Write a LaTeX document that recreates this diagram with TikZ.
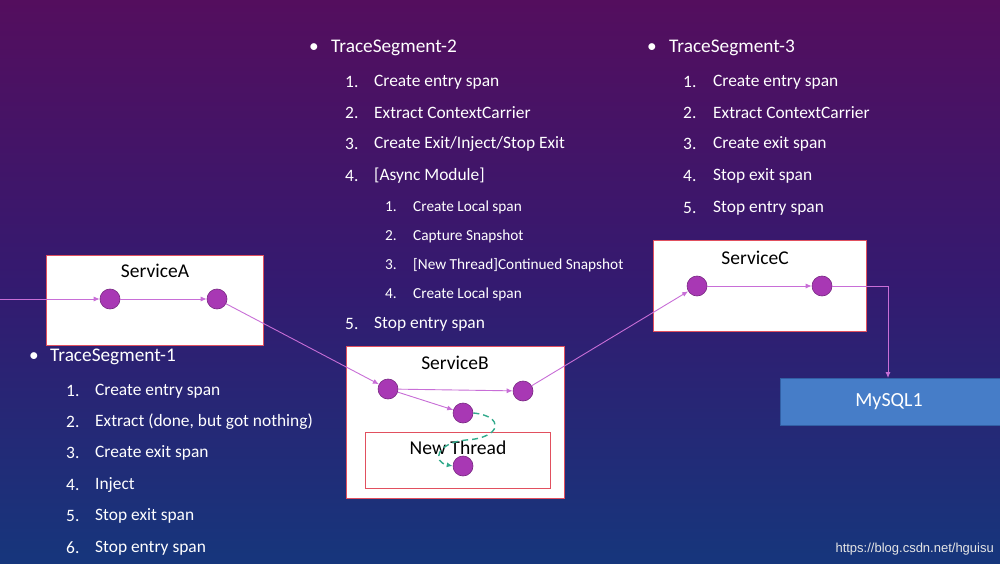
\documentclass[tikz,border=0pt]{standalone}
\usepackage{fontspec}
\setmainfont{Carlito}
\newfontfamily\wmfont{Liberation Sans}
\usetikzlibrary{arrows.meta}
\definecolor{bgtop}{RGB}{84,14,94}
\definecolor{bgmid}{RGB}{52,26,112}
\definecolor{bgbot}{RGB}{22,54,124}
\definecolor{dotfill}{RGB}{168,56,180}
\definecolor{dotline}{RGB}{120,40,130}
\definecolor{linkc}{RGB}{200,110,215}
\definecolor{boxred}{RGB}{225,80,95}
\definecolor{teal}{RGB}{50,170,140}
\definecolor{mysqlfill}{RGB}{70,125,200}
\definecolor{mysqlline}{RGB}{50,95,165}
\tikzset{
  svcbox/.style={draw=boxred, line width=1.2pt, fill=white},
  dot/.style={circle, fill=dotfill, draw=dotline, line width=0.6pt, minimum size=20pt, inner sep=0pt},
  link/.style={draw=linkc, line width=0.9pt, -{Latex[length=6pt,width=5pt]}},
  svctitle/.style={font=\fontsize{19.5}{22}\selectfont, text=black, inner sep=0pt},
  head/.style={font=\fontsize{19.3}{22}\selectfont, text=white, anchor=west, inner sep=0pt},
  item/.style={font=\fontsize{17.4}{20}\selectfont, text=white, anchor=west, inner sep=0pt},
  subitem/.style={font=\fontsize{15.3}{18}\selectfont, text=white, anchor=west, inner sep=0pt},
}
\begin{document}
\begin{tikzpicture}[x=1pt,y=-1pt]
\useasboundingbox (0,0) rectangle (1000,564);
\shade[top color=bgtop, bottom color=bgbot, middle color=bgmid] (0,0) rectangle (1000,564);

% ServiceA
\node[svcbox, minimum width=217pt, minimum height=90pt, anchor=north west] (boxA) at (46,255) {};
\node[svctitle] (tA) at (155,271) {ServiceA};
\node[dot] (a1) at (110,299) {};
\node[dot] (a2) at (217,299) {};
\coordinate (inA) at (0,299);

% ServiceB
\node[svcbox, minimum width=218pt, minimum height=152pt, anchor=north west] (boxB) at (346,346) {};
\node[svctitle] (tB) at (455,363) {ServiceB};
\node[svcbox, fill=none, minimum width=185pt, minimum height=56pt, anchor=north west] (boxNT) at (365,432) {};
\node[svctitle, font=\fontsize{19.6}{22}\selectfont] (tNT) at (458,448) {New Thread};
\node[dot] (b1) at (388,389) {};
\node[dot] (b2) at (523,391) {};
\node[dot] (b3) at (463,413) {};
\node[dot] (b4) at (463,466) {};

% ServiceC
\node[svcbox, minimum width=213pt, minimum height=91pt, anchor=north west] (boxC) at (653,240) {};
\node[svctitle] (tC) at (755,258) {ServiceC};
\node[dot] (c1) at (697,286) {};
\node[dot] (c2) at (822,286) {};

% MySQL
\node[draw=mysqlline, fill=mysqlfill, line width=0.8pt, minimum width=222pt, minimum height=47pt, anchor=north west, inner sep=0pt] (mysql) at (780,378) {};
\node[font=\fontsize{20}{23}\selectfont, text=white, inner sep=0pt] (tM) at (889,402) {MySQL1};
\coordinate (bend) at (888,286);

% connectors
\draw[link] (inA) -- (a1);
\draw[link] (a1) -- (a2);
\draw[link] (a2) -- (b1);
\draw[link] (b1) -- (b2);
\draw[link] (b1) -- (b3);
\draw[link] (b2) -- (c1);
\draw[link] (c1) -- (c2);
\draw[link] (c2) -- (bend) -- (bend |- mysql.north);
\draw[draw=teal, line width=1.4pt, dash pattern=on 6pt off 4pt, -{Latex[length=6pt,width=5pt]}]
  (b3.east) .. controls (505,416) and (502,438) .. (466,440)
  .. controls (436,443) and (432,462) .. (b4.west);

% TraceSegment-1
\node[head] (h1b) at (29,357) {\textbullet};
\node[head] (h1) at (50,357) {TraceSegment-1};
\foreach \n/\t/\y in {1/{Create entry span}/391, 2/{Extract (done, but got nothing)}/422, 3/{Create exit span}/453, 4/{Inject}/485, 5/{Stop exit span}/516, 6/{Stop entry span}/548}{
  \node[item] (s1n\n) at (66,\y) {\n.};
  \node[item] (s1t\n) at (95,\y) {\t};
}

% TraceSegment-2
\node[head] (h2b) at (309,48) {\textbullet};
\node[head] (h2) at (331,48) {TraceSegment-2};
\foreach \n/\t/\y in {1/{Create entry span}/82, 2/{Extract ContextCarrier}/113, 3/{Create Exit/Inject/Stop Exit}/144, 4/{[Async Module]}/176, 5/{Stop entry span}/324}{
  \node[item] (s2n\n) at (345,\y) {\n.};
  \node[item] (s2t\n) at (374,\y) {\t};
}
\foreach \n/\t/\y in {1/{Create Local span}/207, 2/{Capture Snapshot}/236, 3/{[New Thread]Continued Snapshot}/265, 4/{Create Local span}/294}{
  \node[subitem] (s2sn\n) at (385,\y) {\n.};
  \node[subitem] (s2st\n) at (413,\y) {\t};
}

% TraceSegment-3
\node[head] (h3b) at (647,48) {\textbullet};
\node[head] (h3) at (669,48) {TraceSegment-3};
\foreach \n/\t/\y in {1/{Create entry span}/82, 2/{Extract ContextCarrier}/113, 3/{Create exit span}/144, 4/{Stop exit span}/176, 5/{Stop entry span}/208}{
  \node[item] (s3n\n) at (683,\y) {\n.};
  \node[item] (s3t\n) at (713,\y) {\t};
}

% watermark
\node[font=\wmfont\fontsize{13}{15}\selectfont, text=white!80!gray, anchor=east, inner sep=0pt] (wm) at (994,549) {https://blog.csdn.net/hguisu};
\end{tikzpicture}
\end{document}
